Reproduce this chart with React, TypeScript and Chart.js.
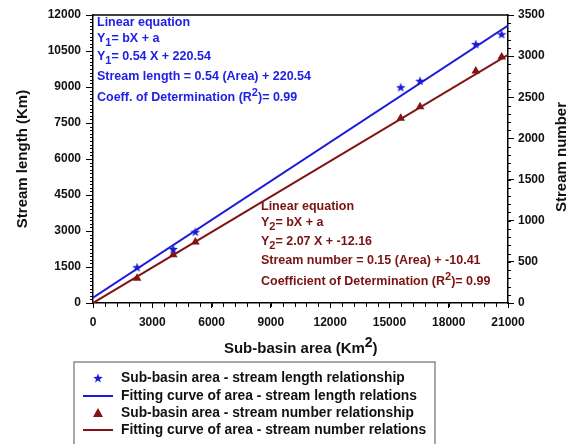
import React, { useEffect, useRef } from "react";
import { Chart, registerables } from "chart.js";

Chart.register(...registerables);

// ---- data ----
const areaKm2 = [2230, 4060, 5180, 15570, 16550, 19370, 20680];
const streamLength = [1490, 2250, 2970, 8990, 9260, 10790, 11200];
const streamNumber = [300, 585, 740, 2245, 2385, 2820, 2990];
const fitArea = [0, 21000];
const lengthFit = [220.54, 11560.54];
const numberFit = [0, 3015];
const xTicks = [0, 3000, 6000, 9000, 12000, 15000, 18000, 21000];
const leftTicks = [0, 1500, 3000, 4500, 6000, 7500, 9000, 10500, 12000];
const rightTicks = [0, 500, 1000, 1500, 2000, 2500, 3000, 3500];

const seriesLabels = [
  "Sub-basin area - stream length relationship",
  "Fitting curve of area - stream length relations",
  "Sub-basin area - stream number relationship",
  "Fitting curve of area - stream number relations",
];

type Seg = [string, "n" | "sub" | "sup"];
const blueNotes: Seg[][] = [
  [["Linear equation", "n"]],
  [["Y", "n"], ["1", "sub"], ["= bX + a", "n"]],
  [["Y", "n"], ["1", "sub"], ["= 0.54 X + 220.54", "n"]],
  [["Stream length = 0.54 (Area) + 220.54", "n"]],
  [["Coeff. of Determination (R", "n"], ["2", "sup"], [")= 0.99", "n"]],
];
const redNotes: Seg[][] = [
  [["Linear equation", "n"]],
  [["Y", "n"], ["2", "sub"], ["= bX + a", "n"]],
  [["Y", "n"], ["2", "sub"], ["= 2.07 X + -12.16", "n"]],
  [["Stream number = 0.15 (Area) + -10.41", "n"]],
  [["Coefficient of Determination (R", "n"], ["2", "sup"], [")= 0.99", "n"]],
];
const xTitle: Seg[] = [["Sub-basin area (Km", "n"], ["2", "sup"], [")", "n"]];

const BLUE = "#1c1cd8";
const RED = "#821414";
const BLUE_TEXT = "#2020e6";
const RED_TEXT = "#7a1212";
const FONT = '"Liberation Sans", Arial, sans-serif';

function makeStar(color: string, size: number) {
  const c = document.createElement("canvas");
  c.width = size;
  c.height = size;
  const ctx = c.getContext("2d")!;
  const cx = size / 2, cy = size / 2 + 0.5, R = size / 2, r = R * 0.42;
  ctx.beginPath();
  for (let i = 0; i < 10; i++) {
    const rad = i % 2 === 0 ? R : r;
    const a = -Math.PI / 2 + (i * Math.PI) / 5;
    ctx.lineTo(cx + rad * Math.cos(a), cy + rad * Math.sin(a));
  }
  ctx.closePath();
  ctx.fillStyle = color;
  ctx.fill();
  return c;
}

function measureRich(ctx: CanvasRenderingContext2D, segs: Seg[], size: number) {
  let w = 0;
  for (const [t, k] of segs) {
    const fs = k === "n" ? size : Math.round(size * 0.85);
    ctx.font = `bold ${fs}px ${FONT}`;
    w += ctx.measureText(t).width;
  }
  return w;
}

function drawRich(ctx: CanvasRenderingContext2D, segs: Seg[], x: number, y: number, size: number, color: string, supScale = 0.85) {
  let cx = x;
  ctx.fillStyle = color;
  ctx.textAlign = "left";
  ctx.textBaseline = "middle";
  for (const [t, k] of segs) {
    const fs = k === "n" ? size : Math.round(size * supScale);
    ctx.font = `bold ${fs}px ${FONT}`;
    const dy = k === "sub" ? size * 0.35 : k === "sup" ? -size * 0.4 : 0;
    ctx.fillText(t, cx, y + dy);
    cx += ctx.measureText(t).width;
  }
}

export default function App() {
  const ref = useRef<HTMLCanvasElement | null>(null);

  useEffect(() => {
    document.body.style.margin = "0";
    const star = makeStar(BLUE, 10);

    const decorations = {
      id: "decorations",
      afterDraw(chart: any) {
        const { ctx, chartArea } = chart;
        const { left, right, top, bottom } = chartArea;
        const sx = chart.scales.x, sy = chart.scales.y, sy2 = chart.scales.y2;
        ctx.save();
        ctx.strokeStyle = "#000";
        ctx.lineWidth = 1;
        ctx.beginPath();
        for (let v = 0; v <= 12000; v += 150) {
          const p = Math.round(sy.getPixelForValue(v)) + 0.5;
          ctx.moveTo(left - 3, p);
          ctx.lineTo(left, p);
        }
        for (let v = 0; v <= 3500; v += 100) {
          const p = Math.round(sy2.getPixelForValue(v)) + 0.5;
          ctx.moveTo(right, p);
          ctx.lineTo(right + 3, p);
        }
        for (let v = 0; v <= 21000; v += 600) {
          const p = Math.round(sx.getPixelForValue(v)) + 0.5;
          ctx.moveTo(p, bottom);
          ctx.lineTo(p, bottom + 4);
        }
        ctx.stroke();
        // top frame
        ctx.lineWidth = 1.5;
        ctx.beginPath();
        ctx.moveTo(left, top);
        ctx.lineTo(right, top);
        ctx.stroke();

        // right axis title (reads bottom to top)
        ctx.save();
        ctx.translate(562, (top + bottom) / 2 - 2);
        ctx.rotate(-Math.PI / 2);
        ctx.font = `bold 15px ${FONT}`;
        ctx.fillStyle = "#111";
        ctx.textAlign = "center";
        ctx.textBaseline = "middle";
        ctx.fillText("Stream number", 0, 0);
        ctx.restore();

        // x axis title with superscript
        const tw = measureRich(ctx, xTitle, 15);
        drawRich(ctx, xTitle, (left + right) / 2 - tw / 2, 349, 15, "#111", 0.95);

        // annotations
        const bY = [23, 39, 57, 77, 98];
        blueNotes.forEach((segs, i) => drawRich(ctx, segs, left + 4, bY[i], 12.5, BLUE_TEXT));
        const rY = [207, 223, 242, 261, 282];
        redNotes.forEach((segs, i) => drawRich(ctx, segs, 261, rY[i], 12.5, RED_TEXT));

        // legend
        const lx = 74, ly = 362, lw = 361;
        ctx.strokeStyle = "#8a8a8a";
        ctx.lineWidth = 1.5;
        ctx.strokeRect(lx, ly, lw, 100);
        const rows = [378, 396, 413, 430];
        chart.data.datasets.forEach((ds: any, i: number) => {
          const y = rows[i];
          if (ds.showLine === false) {
            if (ds.pointStyle === "triangle") {
              ctx.fillStyle = ds.backgroundColor;
              ctx.beginPath();
              ctx.moveTo(98, y - 5);
              ctx.lineTo(103, y + 4);
              ctx.lineTo(93, y + 4);
              ctx.closePath();
              ctx.fill();
            } else {
              ctx.drawImage(star, 93, y - 5);
            }
          } else {
            ctx.strokeStyle = ds.borderColor;
            ctx.lineWidth = 2;
            ctx.beginPath();
            ctx.moveTo(83, y);
            ctx.lineTo(113, y);
            ctx.stroke();
          }
          ctx.fillStyle = "#111";
          ctx.font = `bold 13.8px ${FONT}`;
          ctx.textAlign = "left";
          ctx.textBaseline = "middle";
          ctx.fillText(ds.label, 121, y);
        });
        ctx.restore();
      },
    };

    const tickFont = { family: FONT, size: 12, weight: "bold" as const };
    const plain = (v: any) => String(v);
    const chart = new Chart(ref.current!, {
      type: "scatter",
      data: {
        datasets: [
          {
            label: seriesLabels[0],
            data: areaKm2.map((x, i) => ({ x, y: streamLength[i] })),
            yAxisID: "y",
            showLine: false,
            pointStyle: star as any,
            pointRadius: 5,
            backgroundColor: BLUE,
            borderColor: BLUE,
            order: 1,
          },
          {
            label: seriesLabels[1],
            data: fitArea.map((x, i) => ({ x, y: lengthFit[i] })),
            yAxisID: "y",
            showLine: true,
            pointRadius: 0,
            borderColor: BLUE,
            borderWidth: 2,
            order: 2,
          },
          {
            label: seriesLabels[2],
            data: areaKm2.map((x, i) => ({ x, y: streamNumber[i] })),
            yAxisID: "y2",
            showLine: false,
            pointStyle: "triangle",
            pointRadius: 5,
            backgroundColor: RED,
            borderColor: RED,
            borderWidth: 0,
            order: 1,
          },
          {
            label: seriesLabels[3],
            data: fitArea.map((x, i) => ({ x, y: numberFit[i] })),
            yAxisID: "y2",
            showLine: true,
            pointRadius: 0,
            borderColor: RED,
            borderWidth: 2,
            order: 2,
          },
        ],
      },
      options: {
        responsive: false,
        animation: false,
        layout: { padding: { top: 15, left: 0, right: 0, bottom: 83 } },
        plugins: { legend: { display: false }, tooltip: { enabled: false } },
        scales: {
          x: {
            type: "linear",
            position: "bottom",
            min: 0,
            max: 21000,
            afterBuildTicks: (s: any) => { s.ticks = xTicks.map((v) => ({ value: v })); },
            afterFit: (s: any) => { s.height = 58; },
            grid: { drawOnChartArea: false, tickLength: 5, color: "#000" },
            border: { display: true, color: "#000", width: 1.5 },
            ticks: { color: "#111", font: tickFont, padding: 7, maxRotation: 0, callback: plain },
            title: { display: false },
          },
          y: {
            type: "linear",
            position: "left",
            min: 0,
            max: 12000,
            afterBuildTicks: (s: any) => { s.ticks = leftTicks.map((v) => ({ value: v })); },
            afterFit: (s: any) => { s.width = 93; },
            grid: { drawOnChartArea: false, tickLength: 7, color: "#000" },
            border: { display: true, color: "#000", width: 1.5 },
            ticks: { color: "#111", font: tickFont, padding: 5, callback: plain },
            title: {
              display: true,
              text: "Stream length (Km)",
              color: "#111",
              font: { family: FONT, size: 15, weight: "bold" },
              padding: { top: 14, bottom: 0 },
            },
          },
          y2: {
            type: "linear",
            position: "right",
            min: 0,
            max: 3500,
            afterBuildTicks: (s: any) => { s.ticks = rightTicks.map((v) => ({ value: v })); },
            afterFit: (s: any) => { s.width = 65; },
            grid: { drawOnChartArea: false, tickLength: 6, color: "#000" },
            border: { display: true, color: "#000", width: 1.5 },
            ticks: { color: "#111", font: tickFont, padding: 4, callback: plain },
          },
        },
      },
      plugins: [decorations],
    });
    return () => chart.destroy();
  }, []);

  return (
    <div style={{ width: 573, height: 444, background: "#fff" }}>
      <canvas ref={ref} width={573} height={444} />
    </div>
  );
}
